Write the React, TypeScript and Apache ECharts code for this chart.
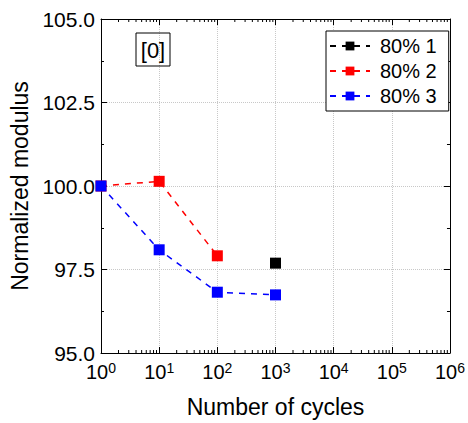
import React, { useEffect, useRef } from "react";
import * as echarts from "echarts";

const seriesNames = ["80% 1", "80% 2", "80% 3"];
const seriesColors = ["#000000", "#ff0000", "#0000ff"];
const cycles1 = [1000];
const modulus1 = [97.69];
const cycles2 = [1, 10, 100];
const modulus2 = [100.0, 100.14, 97.91];
const cycles3 = [1, 10, 100, 1000];
const modulus3 = [100.0, 98.09, 96.82, 96.74];
const xMin = 1;
const xMax = 1e6;
const yMin = 95;
const yMax = 105;
const yInterval = 2.5;
const minorMultipliers = [2, 3, 4, 5, 6, 7, 8, 9];
const annotationText = "[0]";
const xTitle = "Number of cycles";
const yTitle = "Normalized modulus";

const FONT = "'Liberation Sans', Arial, Helvetica, sans-serif";

export default function App() {
  const ref = useRef<HTMLDivElement>(null);
  useEffect(() => {
    if (!ref.current) return;
    const chart = echarts.init(ref.current, null, { renderer: "svg" });
    const decades: number[] = [];
    for (let v = xMin; v < xMax; v *= 10) decades.push(v);
    const minorVals: number[][] = [];
    decades.forEach((d) => minorMultipliers.forEach((m) => minorVals.push([d * m, yMin])));

    const pair = (xs: number[], ys: number[]) => xs.map((x, i) => [x, ys[i]]);
    const datas = [pair(cycles1, modulus1), pair(cycles2, modulus2), pair(cycles3, modulus3)];

    const xAxisBase = {
      type: "log" as const,
      logBase: 10,
      min: xMin,
      max: xMax,
      axisLine: { show: true, onZero: false, lineStyle: { color: "#000", width: 1 } },
      axisTick: { show: true, inside: true, length: 6, lineStyle: { color: "#000" } },
    };
    const yAxisBase = {
      type: "value" as const,
      min: yMin,
      max: yMax,
      interval: yInterval,
      axisLine: { show: true, onZero: false, lineStyle: { color: "#000", width: 1 } },
      axisTick: { show: true, inside: true, length: 6, lineStyle: { color: "#000" } },
      minorTick: { show: true, splitNumber: 2, length: 3, lineStyle: { color: "#000" } },
    };

    chart.setOption({
      animation: false,
      backgroundColor: "#fff",
      textStyle: { fontFamily: FONT },
      grid: { left: 101, right: 16, top: 19, bottom: 67, containLabel: false },
      legend: {
        data: seriesNames,
        orient: "vertical",
        left: 326,
        top: 31,
        padding: [5, 12, 5, 3],
        itemGap: 5,
        itemWidth: 40,
        itemHeight: 11,
        borderColor: "#000",
        borderWidth: 1,
        borderRadius: 0,
        backgroundColor: "#fff",
        textStyle: { fontSize: 20, color: "#000", fontFamily: FONT, padding: [0, 0, 0, 5] },
      },
      xAxis: [
        {
          ...xAxisBase,
          position: "bottom",
          name: xTitle,
          nameLocation: "middle",
          nameGap: 42,
          nameTextStyle: { fontSize: 23, color: "#000", fontFamily: FONT },
          axisLabel: {
            margin: 8,
            color: "#000",
            formatter: (v: number) => `{b|10}{s|${Math.round(Math.log10(v))}}`,
            rich: {
              b: { fontSize: 20, color: "#000", fontFamily: FONT, lineHeight: 22 },
              s: { fontSize: 14, color: "#000", fontFamily: FONT, verticalAlign: "top", lineHeight: 14 },
            },
          },
          splitLine: { show: true, lineStyle: { color: "#c8c8c8", type: "dotted", width: 1 } },
        },
        {
          ...xAxisBase,
          position: "top",
          axisLabel: { show: false },
          splitLine: { show: false },
        },
      ],
      yAxis: [
        {
          ...yAxisBase,
          position: "left",
          name: yTitle,
          nameLocation: "middle",
          nameGap: 69,
          nameTextStyle: { fontSize: 23, color: "#000", fontFamily: FONT },
          axisLabel: {
            margin: 6,
            color: "#000",
            fontSize: 21,
            fontFamily: FONT,
            formatter: (v: number) => v.toFixed(1),
          },
          splitLine: { show: true, lineStyle: { color: "#c8c8c8", type: "dotted", width: 1 } },
        },
        {
          ...yAxisBase,
          position: "right",
          axisLabel: { show: false },
          splitLine: { show: false },
        },
      ],
      graphic: [
        {
          type: "rect",
          shape: { x: 136, y: 33, width: 34, height: 33 },
          style: { fill: "none", stroke: "#000", lineWidth: 1 },
          z: 10,
        },
        {
          type: "text",
          x: 153,
          y: 50,
          style: {
            text: annotationText,
            fontSize: 22,
            fontFamily: FONT,
            fill: "#000",
            align: "center",
            verticalAlign: "middle",
          },
          z: 10,
        },
      ],
      series: [
        ...seriesNames.map((name, i) => ({
          name,
          type: "line",
          xAxisIndex: 0,
          yAxisIndex: 0,
          data: datas[i],
          symbol: "rect",
          symbolSize: 11,
          color: seriesColors[i],
          itemStyle: { color: seriesColors[i] },
          lineStyle: { color: seriesColors[i], type: [6, 6], width: 1.5 },
          z: 3 + i,
        })),
        {
          type: "custom",
          xAxisIndex: 0,
          yAxisIndex: 0,
          silent: true,
          data: minorVals,
          clip: false,
          renderItem: (_params: any, api: any) => {
            const bottom = api.coord([api.value(0), yMin]);
            const top = api.coord([api.value(0), yMax]);
            const style = { stroke: "#000", lineWidth: 1 };
            return {
              type: "group",
              children: [
                { type: "line", shape: { x1: bottom[0], y1: bottom[1], x2: bottom[0], y2: bottom[1] - 3 }, style },
                { type: "line", shape: { x1: top[0], y1: top[1], x2: top[0], y2: top[1] + 3 }, style },
              ],
            };
          },
          z: 2,
        },
      ],
    });
    return () => chart.dispose();
  }, []);
  return <div ref={ref} style={{ width: 468, height: 423, position: "absolute", left: 0, top: 0 }} />;
}
